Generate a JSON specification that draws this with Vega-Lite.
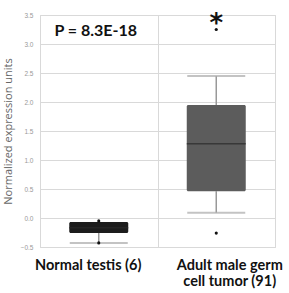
{
  "$schema": "https://vega.github.io/schema/vega-lite/v6.json",
  "width": 235,
  "height": 232,
  "autosize": "none",
  "padding": {"left": 40, "top": 15, "right": 14, "bottom": 46},
  "background": "white",
  "config": {
    "view": {"stroke": "#d9d9d9", "strokeWidth": 1},
    "axis": {"labelOverlap": false},
    "axisY": {
      "labelOverlap": false,
      "labelFontSize": 6.5,
      "labelColor": "#999",
      "labelPadding": 7,
      "domain": false,
      "ticks": false,
      "gridColor": "#d9d9d9",
      "titleFont": "Open Sans",
      "titleFontSize": 11,
      "titleFontWeight": "normal",
      "titleColor": "#666",
      "titlePadding": 7
    }
  },
  "datasets": {
    "boxes": [
      {"group": "Normal testis  (6)", "lo": -0.43, "q1": -0.26, "median": -0.17, "q3": -0.07, "hi": -0.07},
      {"group": "Adult male germ cell tumor (91)", "lo": 0.09, "q1": 0.46, "median": 1.28, "q3": 1.95, "hi": 2.45}
    ],
    "points": [
      {"group": "Normal testis  (6)", "value": -0.05},
      {"group": "Normal testis  (6)", "value": -0.43},
      {"group": "Adult male germ cell tumor (91)", "value": 3.25},
      {"group": "Adult male germ cell tumor (91)", "value": -0.26}
    ],
    "notes": [
      {"group": "Normal testis  (6)", "y": 3.22, "label": "P = 8.3E-18", "kind": "p"},
      {"group": "Adult male germ cell tumor (91)", "y": 3.34, "label": "*", "kind": "star"}
    ]
  },
  "encoding": {
    "x": {
      "field": "group",
      "type": "nominal",
      "sort": ["Normal testis  (6)", "Adult male germ cell tumor (91)"],
      "scale": {"domain": ["Normal testis  (6)", "Adult male germ cell tumor (91)"], "paddingInner": 0, "paddingOuter": 0},
      "axis": {
        "title": null,
        "domain": false,
        "ticks": false,
        "grid": true,
        "tickBand": "extent",
        "gridColor": "#d9d9d9",
        "labelAngle": 0,
        "labelFont": "Lato",
        "labelFontWeight": "bold",
        "labelFontSize": 14.5,
        "labelColor": "#111",
        "labelLineHeight": 16,
        "labelPadding": 11,
        "labelOverlap": false,
        "labelOffset": {"condition": {"test": "datum.value == 'Normal testis  (6)'", "value": -11}, "value": 13},
        "labelExpr": "datum.value == 'Adult male germ cell tumor (91)' ? ['Adult male germ', 'cell tumor (91)'] : datum.value"
      }
    }
  },
  "layer": [
    {
      "data": {"name": "boxes"},
      "mark": {"type": "rule", "color": "#999", "strokeWidth": 1.5},
      "encoding": {"y": {"field": "lo", "type": "quantitative"}, "y2": {"field": "q1"}}
    },
    {
      "data": {"name": "boxes"},
      "mark": {"type": "rule", "color": "#999", "strokeWidth": 1.5},
      "encoding": {"y": {"field": "q3", "type": "quantitative"}, "y2": {"field": "hi"}}
    },
    {
      "data": {"name": "boxes"},
      "mark": {"type": "tick", "color": "#aaa", "size": 58, "thickness": 2},
      "encoding": {"y": {"field": "lo", "type": "quantitative"}}
    },
    {
      "data": {"name": "boxes"},
      "transform": [{"filter": "datum.hi > datum.q3"}],
      "mark": {"type": "tick", "color": "#aaa", "size": 58, "thickness": 2},
      "encoding": {"y": {"field": "hi", "type": "quantitative"}}
    },
    {
      "data": {"name": "boxes"},
      "mark": {"type": "bar", "size": 59, "cornerRadius": 1.5},
      "encoding": {
        "y": {
          "field": "q1",
          "type": "quantitative",
          "scale": {"domain": [-0.5, 3.5], "nice": false, "zero": false},
          "axis": {
            "title": "Normalized expression units",
            "values": [-0.5, 0, 0.5, 1, 1.5, 2, 2.5, 3, 3.5],
            "tickCount": 20,
            "format": ".1f",
            "labelOverlap": false
          }
        },
        "y2": {"field": "q3"},
        "color": {
          "field": "group",
          "type": "nominal",
          "scale": {"domain": ["Normal testis  (6)", "Adult male germ cell tumor (91)"], "range": ["#1c1c1c", "#5c5c5c"]},
          "legend": null
        }
      }
    },
    {
      "data": {"name": "boxes"},
      "mark": {"type": "tick", "color": "#2a2a2a", "size": 59, "thickness": 1.5},
      "encoding": {"y": {"field": "median", "type": "quantitative"}}
    },
    {
      "data": {"name": "points"},
      "mark": {"type": "point", "filled": true, "color": "#111", "size": 10, "opacity": 1},
      "encoding": {"y": {"field": "value", "type": "quantitative"}}
    },
    {
      "data": {"name": "notes"},
      "transform": [{"filter": "datum.kind == 'p'"}],
      "mark": {"type": "text", "font": "Lato", "fontWeight": "bold", "fontSize": 16, "color": "#111", "baseline": "middle", "dx": -3},
      "encoding": {"y": {"field": "y", "type": "quantitative"}, "text": {"field": "label"}}
    },
    {
      "data": {"name": "notes"},
      "transform": [{"filter": "datum.kind == 'star'"}],
      "mark": {"type": "text", "font": "DejaVu Sans", "fontWeight": "bold", "fontSize": 26, "color": "#111", "baseline": "middle"},
      "encoding": {"y": {"field": "y", "type": "quantitative"}, "text": {"field": "label"}}
    }
  ]
}
